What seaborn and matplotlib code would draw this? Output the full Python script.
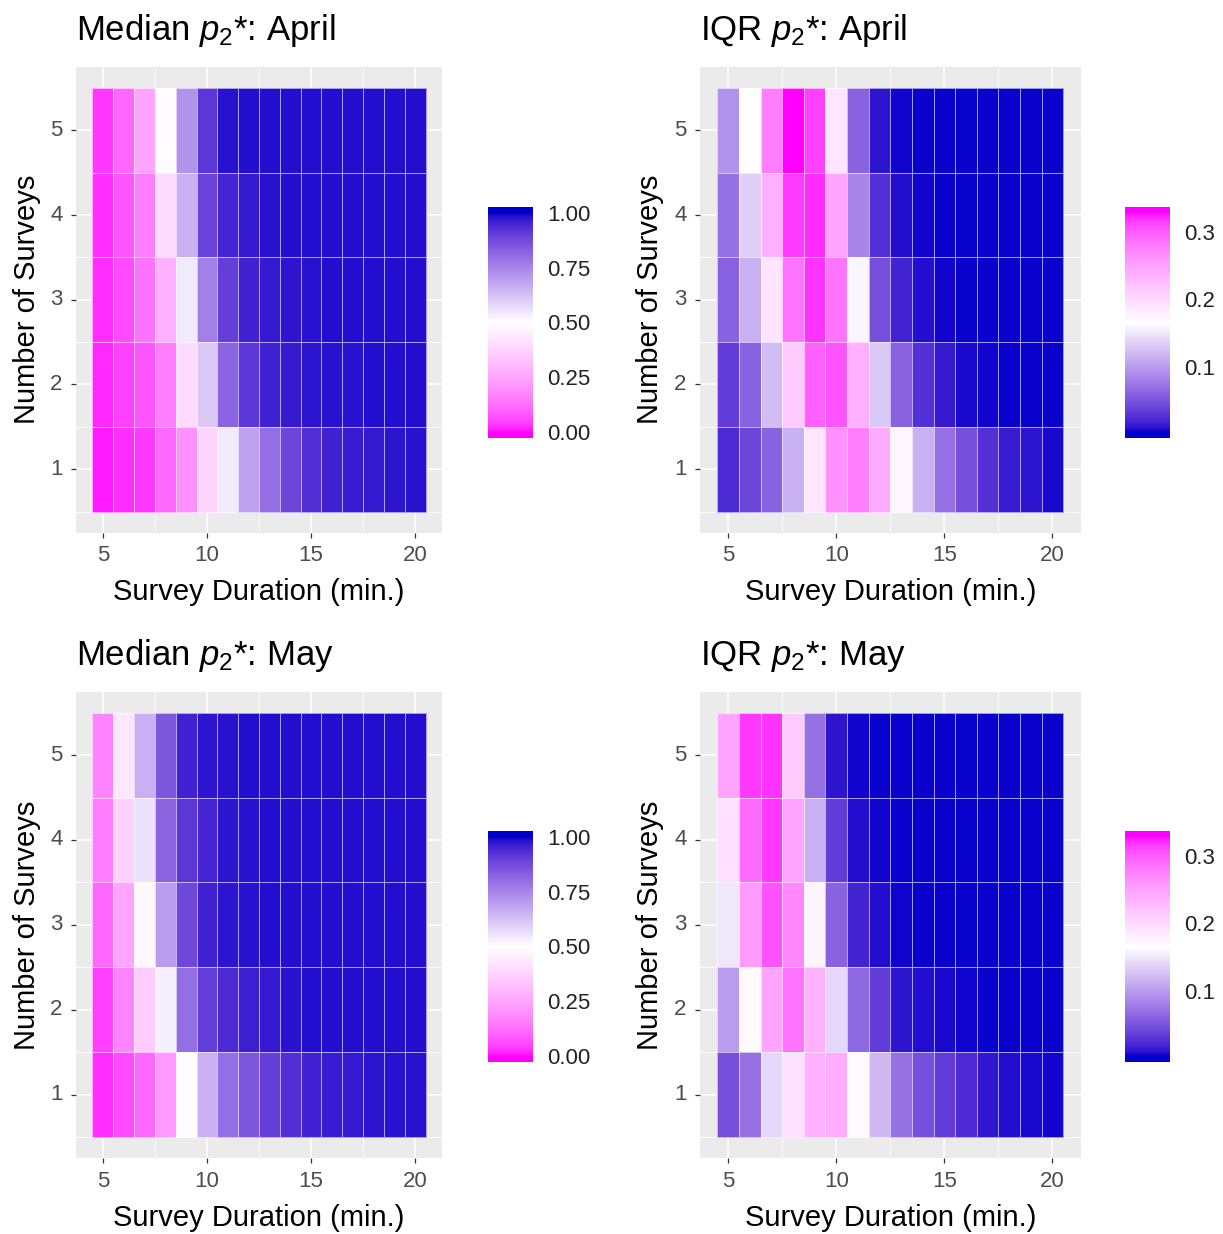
import numpy as np
import pandas as pd
import matplotlib
matplotlib.use("Agg")
import matplotlib.pyplot as plt
from matplotlib.colors import ListedColormap, to_rgb
import seaborn as sns

# ---------------- data ----------------
durations = list(range(5, 21))          # Survey Duration (min.)
surveys = [1, 2, 3, 4, 5]               # Number of Surveys
x_breaks = [5, 10, 15, 20]
y_breaks = [1, 2, 3, 4, 5]

# rows: surveys 1..5 ; columns: durations 5..20
median_april = [
    [0.010, 0.025, 0.035, 0.110, 0.200, 0.380, 0.540, 0.690, 0.800, 0.885, 0.930, 0.955, 0.965, 0.970, 0.975, 0.980],
    [0.020, 0.045, 0.075, 0.155, 0.395, 0.610, 0.820, 0.915, 0.955, 0.970, 0.975, 0.980, 0.980, 0.985, 0.985, 0.985],
    [0.025, 0.060, 0.130, 0.280, 0.545, 0.760, 0.900, 0.955, 0.970, 0.975, 0.980, 0.985, 0.985, 0.985, 0.985, 0.985],
    [0.025, 0.075, 0.155, 0.395, 0.660, 0.890, 0.950, 0.970, 0.980, 0.985, 0.985, 0.985, 0.985, 0.985, 0.985, 0.985],
    [0.035, 0.110, 0.250, 0.490, 0.720, 0.915, 0.980, 0.985, 0.985, 0.985, 0.985, 0.985, 0.985, 0.985, 0.985, 0.985],
]
iqr_april = [
    [0.023, 0.040, 0.060, 0.114, 0.190, 0.263, 0.278, 0.242, 0.175, 0.115, 0.070, 0.047, 0.027, 0.014, 0.011, 0.006],
    [0.034, 0.060, 0.122, 0.214, 0.297, 0.304, 0.237, 0.130, 0.060, 0.027, 0.013, 0.006, 0.005, 0.004, 0.004, 0.004],
    [0.060, 0.114, 0.190, 0.284, 0.318, 0.284, 0.160, 0.047, 0.018, 0.008, 0.005, 0.004, 0.004, 0.004, 0.004, 0.004],
    [0.070, 0.135, 0.237, 0.316, 0.321, 0.247, 0.084, 0.027, 0.008, 0.005, 0.004, 0.004, 0.004, 0.004, 0.004, 0.004],
    [0.094, 0.165, 0.278, 0.328, 0.313, 0.190, 0.060, 0.011, 0.005, 0.004, 0.004, 0.004, 0.004, 0.004, 0.004, 0.004],
]
median_may = [
    [0.025, 0.060, 0.110, 0.220, 0.490, 0.660, 0.800, 0.850, 0.900, 0.930, 0.955, 0.965, 0.970, 0.975, 0.980, 0.980],
    [0.045, 0.170, 0.355, 0.530, 0.800, 0.900, 0.940, 0.960, 0.970, 0.980, 0.985, 0.985, 0.985, 0.985, 0.985, 0.985],
    [0.110, 0.250, 0.480, 0.700, 0.880, 0.955, 0.975, 0.980, 0.985, 0.985, 0.985, 0.985, 0.985, 0.985, 0.985, 0.985],
    [0.155, 0.370, 0.560, 0.820, 0.915, 0.950, 0.975, 0.980, 0.985, 0.985, 0.985, 0.985, 0.985, 0.985, 0.985, 0.985],
    [0.170, 0.430, 0.660, 0.850, 0.955, 0.975, 0.980, 0.985, 0.985, 0.985, 0.985, 0.985, 0.985, 0.985, 0.985, 0.985],
]
iqr_may = [
    [0.047, 0.070, 0.140, 0.195, 0.237, 0.242, 0.170, 0.120, 0.070, 0.047, 0.034, 0.023, 0.012, 0.008, 0.006, 0.005],
    [0.100, 0.170, 0.247, 0.284, 0.237, 0.140, 0.065, 0.034, 0.011, 0.008, 0.006, 0.005, 0.004, 0.004, 0.004, 0.004],
    [0.150, 0.256, 0.304, 0.270, 0.175, 0.060, 0.018, 0.008, 0.005, 0.004, 0.004, 0.004, 0.004, 0.004, 0.004, 0.004],
    [0.195, 0.290, 0.316, 0.247, 0.114, 0.034, 0.008, 0.005, 0.004, 0.004, 0.004, 0.004, 0.004, 0.004, 0.004, 0.004],
    [0.247, 0.316, 0.318, 0.214, 0.070, 0.011, 0.005, 0.004, 0.004, 0.004, 0.004, 0.004, 0.004, 0.004, 0.004, 0.004],
]

median_limits = (0.0, 1.0)
iqr_limits = (0.003, 0.328)
median_ticks = [0.0, 0.25, 0.5, 0.75, 1.0]
median_ticklabels = ["0.00", "0.25", "0.50", "0.75", "1.00"]
iqr_ticks = [0.1, 0.2, 0.3]
iqr_ticklabels = ["0.1", "0.2", "0.3"]

titles = [r"Median $\mathit{p}_{2}$*: April", r"IQR $\mathit{p}_{2}$*: April",
          r"Median $\mathit{p}_{2}$*: May", r"IQR $\mathit{p}_{2}$*: May"]
xlabel = "Survey Duration (min.)"
ylabel = "Number of Surveys"

# ---------------- colour helpers (CIELAB interpolation like ggplot) ----------------
_M = np.array([[0.4124564, 0.3575761, 0.1804375],
               [0.2126729, 0.7151522, 0.0721750],
               [0.0193339, 0.1191920, 0.9503041]])
_W = np.array([0.95047, 1.0, 1.08883])


def rgb2lab(rgb):
    c = np.asarray(rgb, float)
    lin = np.where(c <= 0.04045, c / 12.92, ((c + 0.055) / 1.055) ** 2.4)
    xyz = _M @ lin / _W
    d = 6 / 29
    f = np.where(xyz > d ** 3, np.cbrt(xyz), xyz / (3 * d * d) + 4 / 29)
    return np.array([116 * f[1] - 16, 500 * (f[0] - f[1]), 200 * (f[1] - f[2])])


def lab2rgb(lab):
    L, a, b = lab
    fy = (L + 16) / 116
    fx = fy + a / 500
    fz = fy - b / 200
    d = 6 / 29
    f = np.array([fx, fy, fz])
    xyz = np.where(f > d, f ** 3, 3 * d * d * (f - 4 / 29)) * _W
    lin = np.linalg.solve(_M, xyz)
    lin = np.clip(lin, 0, 1)
    c = np.where(lin <= 0.0031308, 12.92 * lin, 1.055 * lin ** (1 / 2.4) - 0.055)
    return np.clip(c, 0, 1)


def gradient2_cmap(low, mid, high, lo, hi, vmin, vmax, n=512):
    labs = [rgb2lab(to_rgb(c)) for c in (low, mid, high)]
    cols = []
    for v in np.linspace(vmin, vmax, n):
        t = np.clip((v - lo) / (hi - lo), 0, 1)
        if t < 0.5:
            s = t / 0.5
            lab = labs[0] * (1 - s) + labs[1] * s
        else:
            s = (t - 0.5) / 0.5
            lab = labs[1] * (1 - s) + labs[2] * s
        cols.append(lab2rgb(lab))
    return ListedColormap(cols)


# ---------------- figure ----------------
sns.set_theme(style="white")
plt.rcParams["font.family"] = ["Liberation Sans", "DejaVu Sans"]
plt.rcParams["mathtext.fontset"] = "custom"
plt.rcParams["mathtext.rm"] = "Liberation Sans"
plt.rcParams["mathtext.it"] = "Liberation Sans:italic"

W, H = 1223, 1234
fig = plt.figure(figsize=(W / 100, H / 100), dpi=100)
fig.patch.set_facecolor("white")


def px_rect(x0, y0, x1, y1):
    return [x0 / W, 1 - y1 / H, (x1 - x0) / W, (y1 - y0) / H]


panels = [
    dict(data=median_april, lim=median_limits, cols=("magenta", "white", "#0000CD"),
         ticks=median_ticks, tl=median_ticklabels,
         ax=(75.8, 66.8, 442.2, 532.7), cax=(488, 207, 533, 438), title_y=40, lab_x=27),
    dict(data=iqr_april, lim=iqr_limits, cols=("#0000CD", "white", "magenta"),
         ticks=iqr_ticks, tl=iqr_ticklabels,
         ax=(700.0, 66.8, 1080.6, 532.7), cax=(1125, 207, 1170, 438), title_y=40, lab_x=650),
    dict(data=median_may, lim=median_limits, cols=("magenta", "white", "#0000CD"),
         ticks=median_ticks, tl=median_ticklabels,
         ax=(75.8, 691.5, 442.2, 1158.2), cax=(488, 831, 533, 1062), title_y=665, lab_x=27),
    dict(data=iqr_may, lim=iqr_limits, cols=("#0000CD", "white", "magenta"),
         ticks=iqr_ticks, tl=iqr_ticklabels,
         ax=(700.0, 691.5, 1080.6, 1158.2), cax=(1125, 831, 1170, 1062), title_y=665, lab_x=650),
]

for p, title in zip(panels, titles):
    x0, y0, x1, y1 = p["ax"]
    ax = fig.add_axes(px_rect(x0, y0, x1, y1))
    cx0, cy0, cx1, cy1 = p["cax"]
    cax = fig.add_axes(px_rect(cx0, cy0, cx1, cy1))

    lo, hi = p["lim"]
    ext = (hi - lo) / 38.0
    vmin, vmax = lo - ext, hi + ext
    cmap = gradient2_cmap(*p["cols"], lo, hi, vmin, vmax)

    df = pd.DataFrame(p["data"], index=surveys, columns=durations)
    df = df.iloc[::-1]  # survey 5 on top

    sns.heatmap(df, ax=ax, cmap=cmap, vmin=vmin, vmax=vmax,
                linewidths=0.6, linecolor=(1, 1, 1, 0.6),
                cbar_ax=cax, cbar_kws={"ticks": p["ticks"]})

    # ggplot-like panel
    ax.set_facecolor("#EBEBEB")
    ax.set_xlim(-0.8, len(durations) + 0.8)
    ax.set_ylim(len(surveys) + 0.25, -0.25)
    xpos = [durations.index(v) + 0.5 for v in x_breaks]
    ypos = [list(df.index).index(v) + 0.5 for v in y_breaks]
    ax.set_xticks(xpos)
    ax.set_xticklabels([str(v) for v in x_breaks], rotation=0)
    ax.set_yticks(ypos)
    ax.set_yticklabels([str(v) for v in y_breaks], rotation=0)
    ax.set_xticks([xpos[i] + 2.5 for i in range(3)], minor=True)
    ax.set_yticks([ypos[i] + 0.5 for i in range(4)], minor=True)
    ax.set_axisbelow(True)
    ax.grid(True, which="major", color="white", linewidth=1.1)
    ax.grid(True, which="minor", color="white", linewidth=0.55)
    for s in ax.spines.values():
        s.set_visible(False)
    ax.tick_params(axis="x", which="major", direction="out", length=3.6, width=0.9,
                   color="#333333", labelcolor="#4D4D4D", labelsize=16, pad=5.5,
                   bottom=True)
    ax.tick_params(axis="y", which="major", direction="out", length=3.6, width=0.9,
                   color="#333333", labelcolor="#4D4D4D", labelsize=16, pad=6.0,
                   left=True)
    ax.tick_params(axis="both", which="minor", length=0)

    ax.set_xlabel(xlabel, fontsize=21, color="black")
    ax.set_ylabel(ylabel, fontsize=21, color="black")
    ax.xaxis.set_label_coords(0.5, -(592 - 532.7) / (y1 - y0))
    ax.xaxis.label.set_va("center")
    ax.yaxis.set_label_coords((p["lab_x"] - x0) / (x1 - x0), 0.5)
    ax.yaxis.label.set_va("center")

    # colourbar styling
    cbar = ax.collections[0].colorbar
    cbar.outline.set_visible(False)
    cbar.set_ticklabels(p["tl"])
    cax.tick_params(axis="y", which="major", direction="in", length=6.5, width=0.8,
                    color="white", left=True, right=True, labelleft=False,
                    labelright=True, labelsize=16, labelcolor="#222222", pad=10.5)
    cax.tick_params(axis="y", which="minor", length=0)

    fig.text(x0 / W, 1 - p["title_y"] / H, title, fontsize=25, color="black",
             ha="left", va="baseline")

fig.savefig("out.png", dpi=100, facecolor="white")
